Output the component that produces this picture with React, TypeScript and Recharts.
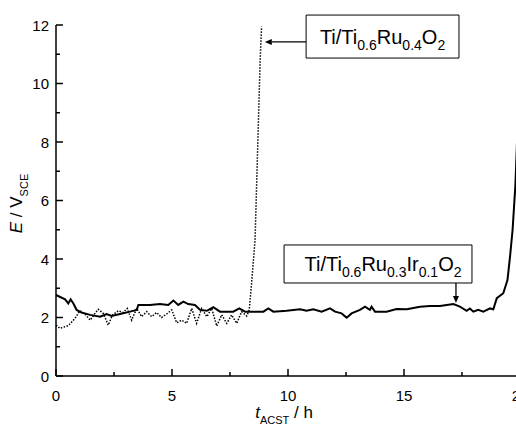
import React from 'react';
import { LineChart, Line, XAxis, YAxis, ReferenceArea, ReferenceLine } from 'recharts';

// Ti/Ti0.6Ru0.3Ir0.1O2 (solid), [t_ACST in h, E in V_SCE]
const ruIrPoints: [number, number][] = [
    [0, 2.77], [0.39, 2.62], [0.53, 2.48], [0.63, 2.62], [0.75, 2.48], [0.89, 2.26], [1.1, 2.17],
    [1.47, 2.09], [1.9, 2.03], [2.18, 2.12], [2.4, 2.05], [2.76, 2.12], [3.19, 2.2], [3.48, 2.26],
    [3.55, 2.43], [4.05, 2.43], [4.48, 2.46], [4.84, 2.43], [5.06, 2.58], [5.27, 2.43], [5.49, 2.54],
    [5.7, 2.46], [5.99, 2.43], [6.21, 2.26], [6.5, 2.23], [6.78, 2.35], [7.07, 2.2], [7.64, 2.2],
    [7.9, 2.31], [8.15, 2.2], [8.94, 2.2], [9.15, 2.31], [9.37, 2.2], [9.94, 2.23], [10.52, 2.28],
    [10.8, 2.23], [11.09, 2.28], [11.45, 2.2], [11.81, 2.31], [12.03, 2.2], [12.31, 2.14], [12.53, 1.99],
    [12.74, 2.14], [13.1, 2.26], [13.32, 2.37], [13.53, 2.26], [13.6, 2.37], [13.75, 2.2], [14.25, 2.2],
    [14.68, 2.29], [15.12, 2.28], [15.69, 2.37], [16.12, 2.39], [16.55, 2.39], [17.13, 2.46], [17.41, 2.37],
    [17.7, 2.23], [17.84, 2.31], [17.99, 2.2], [18.2, 2.26], [18.42, 2.2], [18.71, 2.31], [18.85, 2.28],
    [19.0, 2.66], [19.28, 2.83], [19.46, 3.28], [19.57, 4.08], [19.68, 4.99], [19.8, 6.5], [19.9, 8.6],
];

// Ti/Ti0.6Ru0.4O2 (dotted)
const ruPoints: [number, number][] = [
    [0, 1.74], [0.17, 1.63], [0.53, 1.72], [0.82, 1.97], [1.03, 2.23], [1.25, 2.12], [1.47, 1.91],
    [1.68, 2.14], [1.82, 2.28], [2.04, 2.14], [2.25, 1.74], [2.44, 2.09], [2.69, 2.23], [2.9, 2.17],
    [3.07, 2.31], [3.26, 1.91], [3.48, 2.31], [3.69, 2.03], [3.91, 2.2], [4.12, 2.03], [4.34, 2.17],
    [4.55, 2.0], [4.77, 2.12], [4.99, 2.26], [5.2, 1.82], [5.42, 1.91], [5.63, 1.8], [5.85, 2.31],
    [6.06, 1.8], [6.28, 2.31], [6.5, 2.03], [6.71, 2.31], [6.93, 1.71], [7.14, 2.09], [7.36, 1.8],
    [7.57, 2.09], [7.79, 1.8], [8.0, 2.2], [8.22, 2.05], [8.33, 2.26], [8.43, 3.17], [8.58, 4.65],
    [8.7, 8.0], [8.8, 10.8], [8.86, 11.95],
];

const xTicks = [0, 2.5, 5, 7.5, 10, 12.5, 15, 17.5, 20];
const yTicks = [0, 1, 2, 3, 4, 5, 6, 7, 8, 9, 10, 11, 12];

// annotation boxes and arrows, in data units
const ruBox = { x1: 10.78, x2: 17.37, y1: 10.87, y2: 12.34 };
const ruArrow = [{ x: 10.78, y: 11.42 }, { x: 9.0, y: 11.42 }];
const ruIrBox = { x1: 9.83, x2: 17.93, y1: 3.18, y2: 4.48 };
const ruIrArrow = [{ x: 17.24, y: 3.18 }, { x: 17.24, y: 2.5 }];

const FONT = '"Liberation Sans", Arial, sans-serif';

const toRows = (pts: [number, number][]) => pts.map(([t, e]) => ({ t, e }));

const YTick = (props: any) => {
    const { x, y, payload } = props;
    const major = payload.value % 2 === 0;
    return (
        <g>
            <line x1={x} x2={x + (major ? 7 : 4)} y1={y} y2={y} stroke="#000" strokeWidth={1.5} />
            {major && (
                <text x={x - 7} y={y} textAnchor="end" dominantBaseline="central" fontSize={15} fontFamily={FONT} fill="#000">
                    {payload.value}
                </text>
            )}
        </g>
    );
};

const XTick = (props: any) => {
    const { x, y, payload } = props;
    const major = payload.value % 5 === 0;
    return (
        <g>
            <line x1={x} x2={x} y1={y} y2={y - (major ? 7 : 4)} stroke="#000" strokeWidth={1.5} />
            {major && (
                <text x={x} y={y + 25} textAnchor="middle" fontSize={15} fontFamily={FONT} fill="#000">
                    {payload.value}
                </text>
            )}
        </g>
    );
};

const XTitle = (props: any) => {
    const vb = props.viewBox;
    return (
        <text x={vb.x + vb.width / 2 - 4} y={vb.y + 42} textAnchor="middle" fontSize={17} fontFamily={FONT} fill="#000">
            <tspan fontStyle="italic">t</tspan>
            <tspan fontSize={11} dy={6}>ACST</tspan>
            <tspan dy={-6}> / h</tspan>
        </text>
    );
};

const YTitle = (props: any) => {
    const vb = props.viewBox;
    const cx = 22;
    const cy = vb.y + vb.height / 2 + 3;
    return (
        <text x={cx} y={cy} transform={`rotate(-90 ${cx} ${cy})`} textAnchor="middle" fontSize={17} fontFamily={FONT} fill="#000">
            <tspan fontStyle="italic">E</tspan>
            <tspan> / V</tspan>
            <tspan fontSize={11} dy={6}>SCE</tspan>
        </text>
    );
};

const Formula = ({ viewBox, parts, dx }: any) => {
    const cx = viewBox.x + viewBox.width / 2 + (dx || 0);
    const base = viewBox.y + viewBox.height / 2 + 7;
    return (
        <text x={cx} y={base} textAnchor="middle" fontSize={20} fontFamily={FONT} fill="#000">
            {parts.map((p: [string, string], i: number) => (
                <React.Fragment key={i}>
                    <tspan dy={i === 0 ? 0 : -6}>{p[0]}</tspan>
                    <tspan fontSize={14} dy={6}>{p[1]}</tspan>
                </React.Fragment>
            ))}
        </text>
    );
};

const Arrow = (props: any) => {
    const { x1, y1, x2, y2 } = props;
    const ang = Math.atan2(y2 - y1, x2 - x1);
    const len = 7;
    const w = 3;
    const bx = x2 - len * Math.cos(ang);
    const by = y2 - len * Math.sin(ang);
    const px = -Math.sin(ang) * w;
    const py = Math.cos(ang) * w;
    return (
        <g>
            <line x1={x1} y1={y1} x2={bx} y2={by} stroke="#000" strokeWidth={1.3} />
            <polygon points={`${x2},${y2} ${bx + px},${by + py} ${bx - px},${by - py}`} fill="#000" />
        </g>
    );
};

const App: React.FC = () => {
    return (
        <div style={{ position: 'absolute', left: 0, top: 0, width: 516, height: 428, overflow: 'hidden', background: '#fff' }}>
            <LineChart width={530} height={428} margin={{ top: 25, right: 10, left: 0, bottom: 0 }}>
                <XAxis
                    type="number"
                    dataKey="t"
                    domain={[0, 20]}
                    ticks={xTicks}
                    interval={0}
                    height={52}
                    tickSize={0}
                    tickMargin={0}
                    tickLine={false}
                    tick={<XTick />}
                    axisLine={{ stroke: '#000', strokeWidth: 1.5 }}
                    label={{ content: (p: any) => <XTitle {...p} /> }}
                />
                <YAxis
                    type="number"
                    domain={[0, 12]}
                    ticks={yTicks}
                    interval={0}
                    width={56}
                    tickSize={0}
                    tickMargin={0}
                    tickLine={false}
                    tick={<YTick />}
                    axisLine={{ stroke: '#000', strokeWidth: 1.5 }}
                    label={{ content: (p: any) => <YTitle {...p} /> }}
                />
                <ReferenceArea
                    {...ruBox}
                    ifOverflow="visible"
                    fill="#fff"
                    fillOpacity={1}
                    stroke="#000"
                    strokeWidth={1}
                    label={{ content: (p: any) => <Formula viewBox={p.viewBox} parts={[['Ti/Ti', '0.6'], ['Ru', '0.4'], ['O', '2']]} /> }}
                />
                <ReferenceArea
                    {...ruIrBox}
                    ifOverflow="visible"
                    fill="#fff"
                    fillOpacity={1}
                    stroke="#000"
                    strokeWidth={1}
                    label={{ content: (p: any) => <Formula viewBox={p.viewBox} dx={5} parts={[['Ti/Ti', '0.6'], ['Ru', '0.3'], ['Ir', '0.1'], ['O', '2']]} /> }}
                />
                <ReferenceLine segment={ruArrow} ifOverflow="visible" shape={(p: any) => <Arrow {...p} />} />
                <ReferenceLine segment={ruIrArrow} ifOverflow="visible" shape={(p: any) => <Arrow {...p} />} />
                <Line
                    data={toRows(ruPoints)}
                    dataKey="e"
                    type="linear"
                    stroke="#000"
                    strokeWidth={1.5}
                    strokeDasharray="1.5 1.5"
                    dot={false}
                    isAnimationActive={false}
                />
                <Line
                    data={toRows(ruIrPoints)}
                    dataKey="e"
                    type="linear"
                    stroke="#000"
                    strokeWidth={2}
                    dot={false}
                    isAnimationActive={false}
                />
            </LineChart>
        </div>
    );
};

export default App;
